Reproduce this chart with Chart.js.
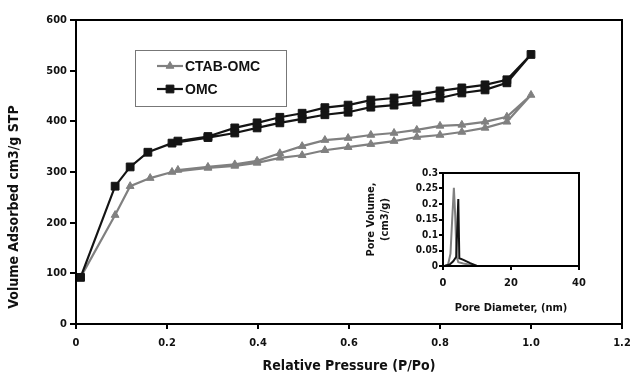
<!DOCTYPE html>
<html>
<head>
<meta charset="utf-8">
<script src="https://cdn.jsdelivr.net/npm/chart.js@4.4.1/dist/chart.umd.min.js"></script>
<style>
  html, body { margin: 0; padding: 0; background: #fff; }
  #wrap { position: relative; width: 630px; height: 376px; }
  #main { position: absolute; left: 0; top: 0; }
  #inset { position: absolute; left: 360px; top: 160px; }
</style>
</head>
<body>
<div id="wrap">
  <canvas id="main" width="630" height="376"></canvas>
  <canvas id="inset" width="240" height="160"></canvas>
</div>
<script>
// ---- Main isotherm data (relative pressure P/Po, volume adsorbed cm3/g STP) ----
// Each series: adsorption branch (up) followed by desorption branch (down)
const omcP = [0.01, 0.086, 0.119, 0.158, 0.211, 0.29, 0.349, 0.398, 0.448, 0.497, 0.547, 0.598, 0.648, 0.699, 0.749, 0.8, 0.848, 0.899, 0.947, 1.0,
              0.947, 0.899, 0.848, 0.8, 0.749, 0.699, 0.648, 0.598, 0.547, 0.497, 0.448, 0.398, 0.349, 0.29, 0.224];
const omcV = [92, 272, 310, 339, 357, 368, 377, 387, 397, 405, 413, 418, 428, 432, 438, 446, 456, 462, 476, 532,
              482, 472, 466, 460, 452, 446, 442, 432, 427, 416, 408, 397, 387, 370, 361];
const ctabP = [0.01, 0.086, 0.119, 0.163, 0.211, 0.29, 0.349, 0.398, 0.448, 0.497, 0.547, 0.598, 0.648, 0.699, 0.749, 0.8, 0.848, 0.899, 0.947, 1.0,
               0.947, 0.899, 0.848, 0.8, 0.749, 0.699, 0.648, 0.598, 0.547, 0.497, 0.448, 0.398, 0.349, 0.29, 0.224];
const ctabV = [92, 215, 272, 288, 300, 308, 312, 318, 328, 333, 343, 349, 355, 361, 369, 373, 379, 387, 399, 452,
               409, 399, 393, 391, 383, 377, 373, 367, 363, 351, 337, 322, 315, 310, 304];
const seriesNames = ['CTAB-OMC', 'OMC'];
const mainXTicks = [0, 0.2, 0.4, 0.6, 0.8, 1, 1.2];
const mainYTicks = [0, 100, 200, 300, 400, 500, 600];

// ---- Inset pore size distribution (pore diameter nm, pore volume cm3/g) ----
const ctabD = [0.5, 1.5, 2.2, 2.7, 3.2, 3.6, 4.0, 4.5, 6, 8, 10, 40];
const ctabPV = [0, 0.005, 0.04, 0.15, 0.252, 0.16, 0.03, 0.012, 0.008, 0.004, 0, 0];
const omcD = [0.5, 2, 3, 3.9, 4.5, 4.8, 6, 8, 10, 40];
const omcPV = [0, 0.005, 0.015, 0.03, 0.216, 0.025, 0.02, 0.009, 0, 0];
const insetXTicks = [0, 20, 40];
const insetYTicks = [0, 0.05, 0.1, 0.15, 0.2, 0.25, 0.3];
const insetYLabels = ['0', '0.05', '0.1', '0.15', '0.2', '0.25', '0.3'];

const GRAY = '#808080';
const BLACK = '#141414';
const TICKFONT = 'DejaVu Sans Condensed, DejaVu Sans, sans-serif';

const toXY = (xs, ys) => xs.map((x, i) => ({ x: x, y: ys[i] }));

const frame = {
  id: 'frame',
  afterDatasetsDraw(chart) {
    const a = chart.chartArea;
    const ctx = chart.ctx;
    ctx.save();
    ctx.strokeStyle = '#000';
    ctx.lineWidth = 2;
    ctx.strokeRect(a.left, a.top, a.right - a.left, a.bottom - a.top);
    ctx.restore();
  }
};

const mainDecor = {
  id: 'mainDecor',
  afterDraw(chart) {
    const ctx = chart.ctx;
    // y-axis title
    ctx.save();
    ctx.translate(14, 207);
    ctx.rotate(-Math.PI / 2);
    ctx.font = 'bold 14px ' + TICKFONT;
    ctx.fillStyle = '#111';
    ctx.textAlign = 'center';
    ctx.textBaseline = 'middle';
    ctx.fillText('Volume Adsorbed cm3/g STP', 0, 0);
    ctx.restore();
    // legend box
    ctx.save();
    ctx.strokeStyle = '#777';
    ctx.lineWidth = 1;
    ctx.strokeRect(135.5, 50.5, 151, 56);
    const rows = [66, 89];
    chart.data.datasets.forEach((ds, i) => {
      const y = rows[i];
      ctx.strokeStyle = ds.borderColor;
      ctx.lineWidth = ds.borderWidth;
      ctx.beginPath();
      ctx.moveTo(157, y);
      ctx.lineTo(183, y);
      ctx.stroke();
      ctx.fillStyle = ds.pointBackgroundColor;
      ctx.strokeStyle = ds.pointBorderColor;
      ctx.lineWidth = 1;
      Chart.helpers.drawPoint(ctx, { pointStyle: ds.pointStyle, rotation: 0, radius: ds.pointRadius, borderWidth: 1 }, 170, y);
      ctx.font = 'bold 14px "Liberation Sans", Arial, sans-serif';
      ctx.fillStyle = '#111';
      ctx.textAlign = 'left';
      ctx.textBaseline = 'middle';
      ctx.fillText(ds.label, 185, y + 1);
    });
    ctx.restore();
  }
};

new Chart(document.getElementById('main'), {
  type: 'scatter',
  data: {
    datasets: [
      {
        label: seriesNames[0],
        data: toXY(ctabP, ctabV),
        showLine: true,
        borderColor: GRAY,
        backgroundColor: GRAY,
        pointBackgroundColor: GRAY,
        pointBorderColor: GRAY,
        borderWidth: 2.2,
        pointStyle: 'triangle',
        pointRadius: 4.5,
        pointBorderWidth: 1,
        order: 2
      },
      {
        label: seriesNames[1],
        data: toXY(omcP, omcV),
        showLine: true,
        borderColor: BLACK,
        backgroundColor: BLACK,
        pointBackgroundColor: BLACK,
        pointBorderColor: BLACK,
        borderWidth: 2.2,
        pointStyle: 'rect',
        pointRadius: 5.5,
        pointBorderWidth: 1,
        order: 1
      }
    ]
  },
  options: {
    responsive: false,
    animation: false,
    devicePixelRatio: 1,
    layout: { padding: { left: 0, right: 8, top: 20, bottom: 0 } },
    plugins: { legend: { display: false }, tooltip: { enabled: false } },
    scales: {
      x: {
        type: 'linear',
        min: 0, max: 1.2,
        afterBuildTicks: s => { s.ticks = mainXTicks.map(v => ({ value: v })); },
        afterFit: s => { s.height = 52; s.paddingRight = 0; s.paddingLeft = 0; },
        grid: { display: true, drawOnChartArea: false, drawTicks: true, tickLength: 5, color: '#000', lineWidth: 2 },
        border: { display: false },
        ticks: { color: '#111', padding: 8, font: { family: TICKFONT, size: 11, weight: 'bold' }, maxRotation: 0 },
        title: { display: true, text: 'Relative Pressure (P/Po)', color: '#111', padding: { top: 0, bottom: 1 },
                 font: { family: TICKFONT, size: 14, weight: 'bold' } }
      },
      y: {
        type: 'linear',
        min: 0, max: 600,
        afterBuildTicks: s => { s.ticks = mainYTicks.map(v => ({ value: v })); },
        afterFit: s => { s.width = 76; },
        grid: { display: true, drawOnChartArea: false, drawTicks: true, tickLength: 6, color: '#000', lineWidth: 2 },
        border: { display: false },
        ticks: { color: '#111', padding: 3, font: { family: TICKFONT, size: 11, weight: 'bold' } }
      }
    }
  },
  plugins: [frame, mainDecor]
});

new Chart(document.getElementById('inset'), {
  type: 'scatter',
  data: {
    datasets: [
      {
        label: seriesNames[0],
        data: toXY(ctabD, ctabPV),
        showLine: true,
        borderColor: GRAY,
        borderWidth: 2,
        pointRadius: 0,
        order: 2
      },
      {
        label: seriesNames[1],
        data: toXY(omcD, omcPV),
        showLine: true,
        borderColor: BLACK,
        borderWidth: 2,
        pointRadius: 0,
        order: 1
      }
    ]
  },
  options: {
    responsive: false,
    animation: false,
    devicePixelRatio: 1,
    layout: { padding: { left: 5, right: 21, top: 13, bottom: 0 } },
    plugins: { legend: { display: false }, tooltip: { enabled: false } },
    scales: {
      x: {
        type: 'linear',
        min: 0, max: 40,
        afterBuildTicks: s => { s.ticks = insetXTicks.map(v => ({ value: v })); },
        afterFit: s => { s.height = 54; s.paddingRight = 0; s.paddingLeft = 0; },
        grid: { display: true, drawOnChartArea: false, drawTicks: true, tickLength: 4, color: '#000', lineWidth: 2 },
        border: { display: false },
        ticks: { color: '#111', padding: 7, font: { family: TICKFONT, size: 11, weight: 'bold' }, maxRotation: 0 },
        title: { display: true, text: 'Pore Diameter, (nm)', color: '#111', padding: { top: 0, bottom: 5 },
                 font: { family: TICKFONT, size: 11, weight: 'bold' } }
      },
      y: {
        type: 'linear',
        min: 0, max: 0.3,
        afterBuildTicks: s => { s.ticks = insetYTicks.map(v => ({ value: v })); },
        afterFit: s => { s.width = 78; },
        grid: { display: true, drawOnChartArea: false, drawTicks: true, tickLength: 4, color: '#000', lineWidth: 2 },
        border: { display: false },
        ticks: { color: '#111', padding: 1, font: { family: TICKFONT, size: 10, weight: 'bold' },
                 callback: (v, i) => insetYLabels[i] },
        title: { display: true, text: ['Pore Volume,', '(cm3/g)'], color: '#111', padding: { top: 0, bottom: 0 },
                 font: { family: TICKFONT, size: 11, weight: 'bold', lineHeight: 1.2 } }
      }
    }
  },
  plugins: [frame]
});
</script>
</body>
</html>
